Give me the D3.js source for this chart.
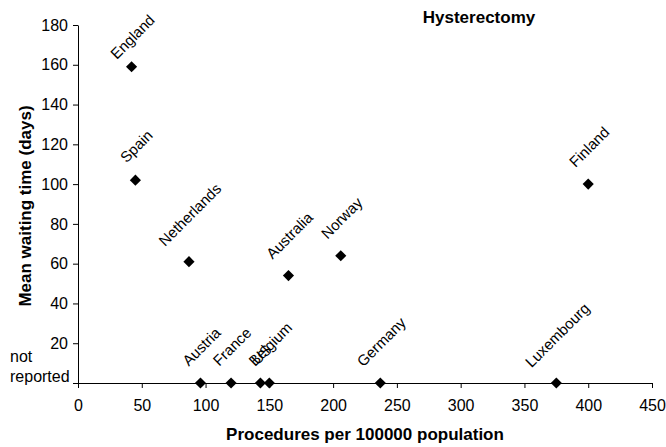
<!DOCTYPE html>
<html>
<head>
<meta charset="utf-8">
<script src="https://cdn.jsdelivr.net/npm/d3@7"></script>
<style>
  body { margin: 0; background: #fff; }
  text { font-family: "Liberation Sans", Arial, sans-serif; fill: #000; }
</style>
</head>
<body>
<div id="chart"></div>
<script>
// data (0 wait = not reported)
var countries = ["England", "Spain", "Netherlands", "Australia", "Norway", "Finland",
  "Austria", "France", "US", "Belgium", "Germany", "Luxembourg"];
var procedures = [42, 45, 87, 165, 206, 400, 96, 120, 143, 150, 237, 375];
var waitDays = [159, 102, 61, 54, 64, 100, 0, 0, 0, 0, 0, 0];
var xTicks = [0, 50, 100, 150, 200, 250, 300, 350, 400, 450];
var yTicks = [0, 20, 40, 60, 80, 100, 120, 140, 160, 180];

var svgWidth = 666;
var svgHeight = 447;
var margin = { top: 25, right: 14, bottom: 64, left: 78 };
var width = svgWidth - margin.left - margin.right;
var height = svgHeight - margin.top - margin.bottom;

var svg = d3.select("#chart")
  .append("svg")
  .attr("width", svgWidth)
  .attr("height", svgHeight);

var chartGroup = svg.append("g")
  .attr("transform", `translate(${margin.left}, ${margin.top})`);

var xScale = d3.scaleLinear().domain([0, 450]).range([0, width]);
var yScale = d3.scaleLinear().domain([0, 180]).range([height, 0]);

// x axis
var xAxis = chartGroup.append("g")
  .attr("transform", `translate(0, ${height})`)
  .call(d3.axisBottom(xScale).tickValues(xTicks).tickSize(5).tickSizeOuter(0).tickPadding(12));
xAxis.selectAll("text").style("font-size", "16px");

// y axis, 0 is replaced by "not reported"
var yAxis = chartGroup.append("g")
  .call(d3.axisLeft(yScale).tickValues(yTicks).tickSize(5).tickSizeOuter(0).tickPadding(5)
    .tickFormat(d => d === 0 ? "" : d));
yAxis.selectAll("text").style("font-size", "16px");
chartGroup.selectAll(".domain, .tick line").attr("stroke", "#000");

var notRep = chartGroup.append("text")
  .style("font-size", "16px");
notRep.append("tspan").attr("x", 10 - margin.left).attr("y", yScale(0) - 21).text("not");
notRep.append("tspan").attr("x", 10 - margin.left).attr("y", yScale(0) - 1).text("reported");

// markers
var diamond = d3.symbol().type(d3.symbolSquare).size(62);
chartGroup.selectAll(".pt")
  .data(countries)
  .enter()
  .append("path")
  .attr("class", "pt")
  .attr("d", diamond)
  .attr("fill", "#000")
  .attr("transform", (d, i) => `translate(${xScale(procedures[i])}, ${yScale(waitDays[i])}) rotate(45)`);

// rotated point labels, placed above each point and kept inside the chart
var labels = chartGroup.selectAll(".lbl")
  .data(countries)
  .enter()
  .append("text")
  .attr("class", "lbl")
  .style("font-size", "15px")
  .attr("text-anchor", "middle")
  .attr("dy", "0.35em")
  .text(d => d);

labels.attr("transform", function(d, i) {
  var len = this.getComputedTextLength();
  var half = 0.354 * (len + 15);
  var cy = yScale(waitDays[i]) - (0.31 * len + 22);
  var minCy = 12 - margin.top + half;
  if (cy < minCy) cy = minCy;
  return `translate(${xScale(procedures[i]) + 1}, ${cy}) rotate(-45)`;
});

// titles
svg.append("text")
  .attr("x", 479)
  .attr("y", 23)
  .attr("text-anchor", "middle")
  .style("font-size", "17px")
  .style("font-weight", "bold")
  .text("Hysterectomy");

svg.append("text")
  .attr("x", margin.left + width / 2)
  .attr("y", 440)
  .attr("text-anchor", "middle")
  .style("font-size", "17px")
  .style("font-weight", "bold")
  .text("Procedures per 100000 population");

svg.append("text")
  .attr("transform", `translate(31, 206) rotate(-90)`)
  .attr("text-anchor", "middle")
  .style("font-size", "17px")
  .style("font-weight", "bold")
  .text("Mean waiting time (days)");
</script>
</body>
</html>
